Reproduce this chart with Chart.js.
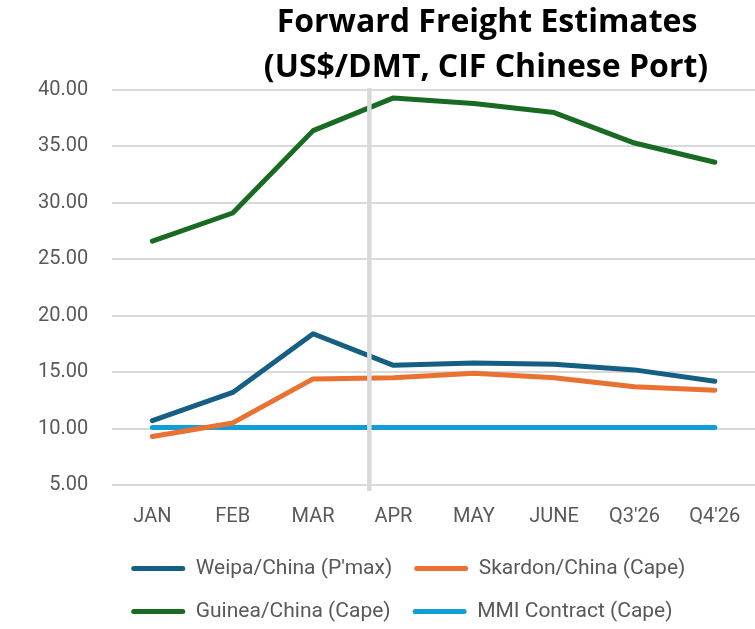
<!DOCTYPE html>
<html>
<head>
<meta charset="utf-8">
<script src="https://cdn.jsdelivr.net/npm/chart.js@4.4.1/dist/chart.umd.min.js"></script>
<style>
  html, body { margin: 0; padding: 0; background: #fff; }
  #wrap { width: 755px; height: 629px; position: relative; }
</style>
</head>
<body>
<div id="wrap"><canvas id="freightChart"></canvas></div>
<script>
// =========================
// DATA
// =========================
const periods = ["JAN", "FEB", "MAR", "APR", "MAY", "JUNE", "Q3'26", "Q4'26"];
const weipa   = [10.7, 13.2, 18.4, 15.6, 15.8, 15.7, 15.2, 14.2];
const skardon = [9.3, 10.5, 14.4, 14.5, 14.9, 14.5, 13.7, 13.4];
const guinea  = [26.6, 29.1, 36.4, 39.3, 38.8, 38.0, 35.3, 33.6];
const mmi     = [10.1, 10.1, 10.1, 10.1, 10.1, 10.1, 10.1, 10.1];
const titleLines = ["Forward Freight Estimates", "(US$/DMT, CIF Chinese Port)"];

const axisGrey = "#595959";

// --- title drawn over the plot top, as in the source ---
const titlePlugin = {
    id: "overTitle",
    afterDraw(chart) {
        const ctx = chart.ctx;
        ctx.save();
        ctx.fillStyle = "#000";
        ctx.font = "bold 32px 'Open Sans'";
        ctx.textAlign = "center";
        ctx.textBaseline = "middle";
        ctx.fillText(titleLines[0], 487, 23);
        ctx.fillText(titleLines[1], 486, 68);
        ctx.restore();
    }
};

// --- vertical divider between actuals and forecast ---
const dividerPlugin = {
    id: "divider",
    afterDatasetsDraw(chart) {
        const x = chart.scales.x, y = chart.scales.y;
        const px = x.getPixelForValue(2) + 0.7 * (x.getPixelForValue(3) - x.getPixelForValue(2));
        const ctx = chart.ctx;
        ctx.save();
        ctx.strokeStyle = "#d9d9d9";
        ctx.lineWidth = 4.5;
        ctx.beginPath();
        ctx.moveTo(px, y.top - 2);
        ctx.lineTo(px, y.bottom + 6);
        ctx.stroke();
        ctx.restore();
    }
};

// --- nudge the legend under the plot, left-aligned like the source ---
const legendShift = {
    id: "legendShift",
    afterLayout(chart) {
        chart.legend.left = chart.chartArea.left - 3;
        chart.legend.top -= 5;
    }
};

const series = (label, data, color) => ({
    label, data,
    borderColor: color,
    backgroundColor: color,
    borderWidth: 5,
    pointRadius: 0,
    borderCapStyle: "round",
    borderJoinStyle: "round",
    tension: 0
});

new Chart(document.getElementById("freightChart"), {
    type: "line",
    data: {
        labels: periods,
        datasets: [
            series("Weipa/China (P'max)", weipa, "#156082"),
            series("Skardon/China (Cape)", skardon, "#E97132"),
            series("Guinea/China (Cape)", guinea, "#196B24"),
            series("MMI Contract (Cape)", mmi, "#0F9ED5")
        ]
    },
    options: {
        responsive: true,
        maintainAspectRatio: false,
        animation: false,
        layout: { padding: { top: 90, left: 14, right: 0, bottom: -8 } },
        plugins: {
            title: { display: false },
            tooltip: { enabled: false },
            legend: {
                position: "bottom",
                align: "start",
                labels: {
                    color: axisGrey,
                    font: { family: "Roboto", size: 21 },
                    boxWidth: 54,
                    boxHeight: 5,
                    padding: 22,
                    useBorderRadius: true,
                    borderRadius: 2.5,
                    generateLabels: chart => chart.data.datasets.map((d, i) => ({
                        text: d.label,
                        fillStyle: d.borderColor,
                        strokeStyle: d.borderColor,
                        lineWidth: 0,
                        fontColor: axisGrey,
                        datasetIndex: i,
                        borderRadius: 2.5
                    }))
                }
            }
        },
        scales: {
            x: {
                offset: true,
                grid: { display: false },
                border: { display: false },
                ticks: { color: axisGrey, font: { family: "Roboto", size: 20 }, padding: 12 }
            },
            y: {
                min: 5,
                max: 40,
                grid: { color: "#d9d9d9", lineWidth: 2, drawTicks: false },
                border: { display: false },
                ticks: {
                    stepSize: 5,
                    color: axisGrey,
                    font: { family: "Roboto", size: 20 },
                    padding: 24,
                    callback: v => v.toFixed(2)
                }
            }
        }
    },
    plugins: [titlePlugin, dividerPlugin, legendShift]
});
</script>
</body>
</html>
